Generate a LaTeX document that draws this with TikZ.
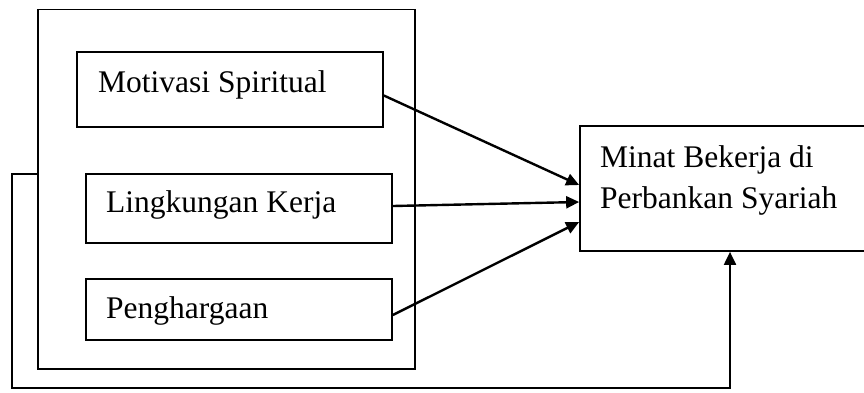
\documentclass[tikz,border=0pt]{standalone}
\usepackage{fontspec}
\setmainfont{Liberation Serif}
\usetikzlibrary{arrows.meta}
\begin{document}
\begin{tikzpicture}[x=1pt, y=-1pt,
  kotak/.style={draw, line width=1.7pt, inner sep=0pt},
  teks/.style={inner sep=0pt, font=\fontsize{31.5}{41}\selectfont},
  panah/.style={line width=2.4pt, -{Triangle[length=13pt,width=12pt]}}]
\useasboundingbox (0,0) rectangle (864,392);
\node[kotak, minimum width=377pt, minimum height=359.5pt] (luar) at (226.5,189.25){};
\node[kotak, minimum width=306pt, minimum height=75pt] (var1) at (230,89.5){};
\node[teks, anchor=base west] (tvar1) at (98,92){Motivasi Spiritual};
\node[kotak, minimum width=306pt, minimum height=69pt] (var2) at (239,208.5){};
\node[teks, anchor=base west] (tvar2) at (106,212.5){Lingkungan Kerja};
\node[kotak, minimum width=306pt, minimum height=61pt] (var3) at (239,309.5){};
\node[teks, anchor=base west] (tvar3) at (106,318){Penghargaan};
\node[kotak, minimum width=300pt, minimum height=125pt] (minat) at (730,188.5){};
\node[teks, anchor=north west, align=left] (tminat) at (600,145){Minat Bekerja di\\Perbankan Syariah};
\coordinate (fb) at (38,174);
\coordinate (bawah) at (730,388);
\draw[panah] ([yshift=-6pt]var1.east) -- ([yshift=3.5pt]minat.west);
\draw[panah] ([yshift=2.5pt]var2.east) -- ([yshift=-13.5pt]minat.west);
\draw[panah] ([yshift=-5.5pt]var3.east) -- ([yshift=-33.5pt]minat.west);
\draw[panah, line width=2pt] (fb) -- (12,174) |- (bawah) -- (minat.south);

\end{tikzpicture}
\end{document}
